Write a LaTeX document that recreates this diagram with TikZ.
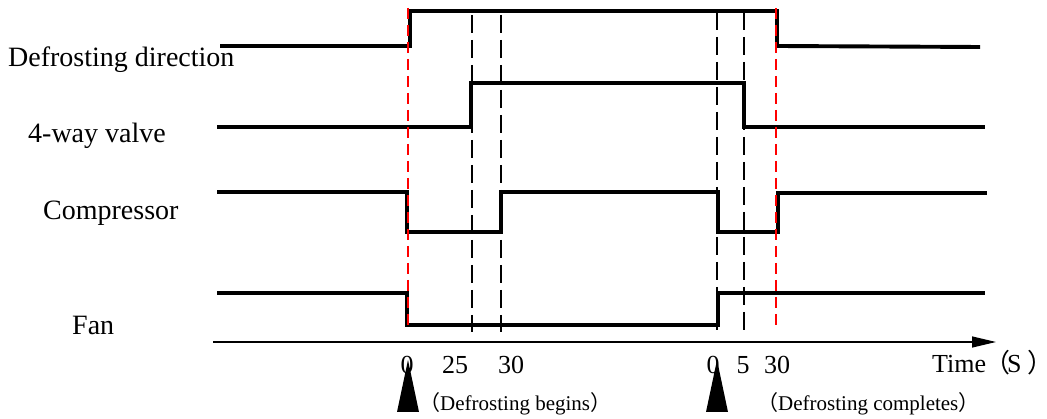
\documentclass[tikz,border=0pt]{standalone}
\usepackage{fontspec}
\setmainfont{Liberation Serif}
\newfontfamily\cjk{Noto Sans CJK SC}
\usetikzlibrary{arrows.meta}

\tikzset{
  signal/.style={line width=3.9pt, line join=miter},
  guide/.style={line width=1.5pt, dash pattern=on 18pt off 7pt},
  marker/.style={line width=1.6pt, red, dash pattern=on 11pt off 6pt},
  axisline/.style={line width=1.3pt, -{Triangle[length=24pt,width=11pt]}},
  label/.style={inner sep=0pt, anchor=base west, font=\fontsize{28}{30}\selectfont},
  tick/.style={inner sep=0pt, anchor=base, font=\fontsize{26}{28}\selectfont},
  note/.style={inner sep=0pt, anchor=base west, font=\fontsize{21}{24}\selectfont},
  pointer/.style={fill=black, draw=none}
}

\begin{document}
\begin{tikzpicture}[x=1pt, y=-1pt]
\useasboundingbox (0,0) rectangle (1047,419);

% time axis
\coordinate (axstart) at (213,342);
\coordinate (axend) at (996,342);
\draw[axisline] (axstart) -- (axend);

% signal names
\node[label] (ldefrost) at (8,67) {Defrosting direction};
\node[label] (lvalve) at (28,143) {4-way valve};
\node[label] (lcomp) at (43,220) {Compressor};
\node[label] (lfan) at (72,335) {Fan};

% reference lines at the switching instants
\draw[guide] (472,15) -- (472,332);
\draw[guide] (501,15) -- (501,332);
\draw[guide] (717,12) -- (717,332);
\draw[guide] (744,12) -- (744,332);

% signal traces
\draw[signal] (220,46) -- (410,46) -- (410,11) -- (777,11) -- (777,46) -- (980,47);
\draw[signal] (217,127) -- (471,127) -- (471,83) -- (744,83) -- (744,127) -- (985,127);
\draw[signal] (217,192) -- (407,192) -- (407,232) -- (501,232) -- (501,192)
  -- (718,192) -- (718,232) -- (778,232) -- (778,193) -- (987,193);
\draw[signal] (217,293) -- (407,293) -- (407,325) -- (718,325) -- (718,293) -- (985,293);

% defrost start / end markers
\draw[marker] (408,8) -- (408,330);
\draw[marker] (776,8) -- (776,330);

% tick labels
\node[tick] (t0a) at (407,374) {0};
\node[tick] (t25) at (455,374) {25};
\node[tick] (t30a) at (511,374) {30};
\node[tick] (t0b) at (713,374) {0};
\node[tick] (t5) at (743,374) {5};
\node[tick] (t30b) at (777,374) {30};

% time unit
\node[tick, anchor=base west] (tunit) at (932,373)
  {Time\kern-2pt{\cjk （}\kern-3pt S\kern6pt{\cjk ）}};

% event pointers
\fill[pointer] (408,360) -- (419,412) -- (397,412) -- cycle;
\fill[pointer] (717,360) -- (728,412) -- (706,412) -- cycle;

% event notes
\node[note] (nbegin) at (419,411) {{\cjk （}Defrosting begins{\cjk ）}};
\node[note] (nend) at (757,411) {{\cjk （}Defrosting completes{\cjk ）}};
\end{tikzpicture}
\end{document}
